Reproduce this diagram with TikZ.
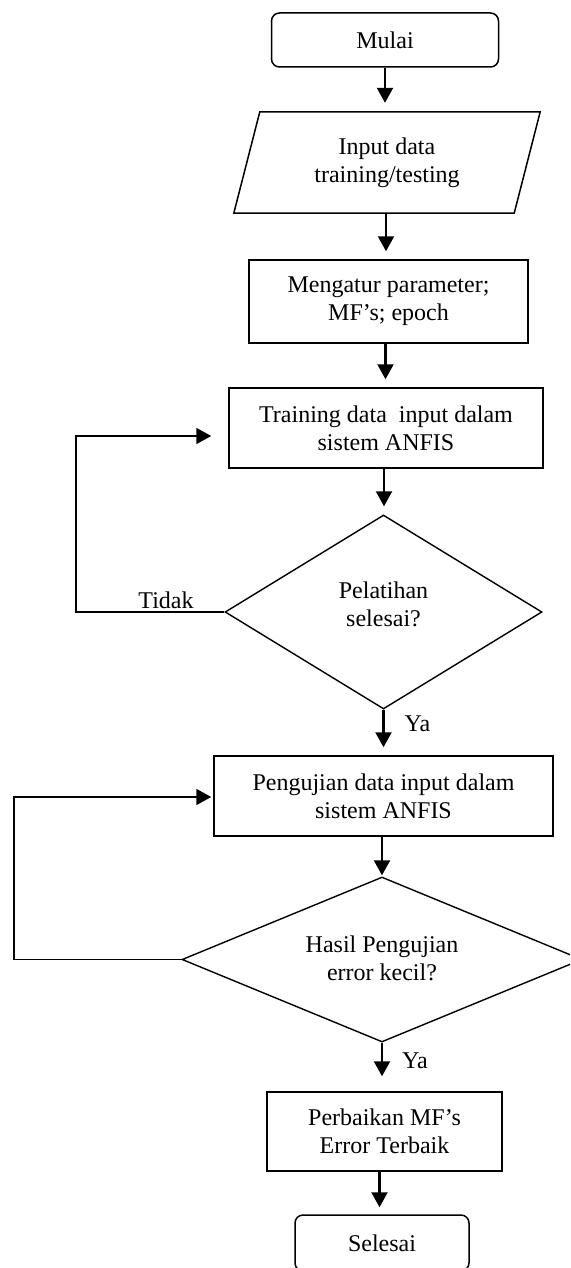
\documentclass[tikz,border=0pt]{standalone}
\usepackage{fontspec}
\setmainfont{Liberation Serif}
\usetikzlibrary{arrows.meta,shapes.geometric}
\begin{document}
\begin{tikzpicture}[x=1pt,y=-1pt,
  every node/.style={font=\fontsize{24}{28}\selectfont},
  box/.style={draw, line width=1.5pt, inner sep=0pt, align=center},
  term/.style={box, rounded corners=8pt},
  dec/.style={diamond, draw, line width=1.4pt, inner sep=0pt},
  arr/.style={line width=2.2pt, -{Triangle[length=15pt,width=16pt]}},
  loopline/.style={line width=1.8pt, -{Triangle[length=15pt,width=16pt]}}]
\clip (0,0) rectangle (570,1268);
% nodes
\node[term, minimum width=227pt, minimum height=54pt] (mulai) at (385,40) {Mulai};
\node[align=center, inner sep=0pt, minimum width=280pt, minimum height=101pt] (input) at (387,162.5) {Input data\\training/testing};
\draw[line width=1.5pt] ([xshift=13pt]input.north west) -- ([xshift=13pt]input.north east) -- ([xshift=-13pt]input.south east) -- ([xshift=-13pt]input.south west) -- cycle;
\node[box, minimum width=279pt, minimum height=83pt] (mengatur) at (388.5,301.5) {Mengatur parameter;\\MF’s; epoch};
\node[box, minimum width=314pt, minimum height=80pt] (training) at (386,428) {Training data~ input dalam\\sistem ANFIS};
\node[dec, minimum width=317pt, minimum height=194pt] (d1) at (383.5,612) {};
\node[align=center] at ([yshift=8pt]d1.center) {Pelatihan\\selesai?};
\node[box, minimum width=339pt, minimum height=80pt] (pengujian) at (383.5,796) {Pengujian data input dalam\\sistem ANFIS};
\node[dec, minimum width=400pt, minimum height=165pt] (d2) at (382,959.5) {};
\node[align=center] at ([yshift=1pt]d2.center) {Hasil Pengujian\\error kecil?};
\node[box, minimum width=235pt, minimum height=79pt] (perbaikan) at (384.5,1131.5) {Perbaikan MF’s\\Error Terbaik};
\node[term, minimum width=174pt, minimum height=56pt] (selesai) at (382,1243) {Selesai};
% labels
\node[anchor=base, inner sep=0pt] (tidak) at (166,608) {Tidak};
\node[anchor=base, inner sep=0pt] (ya1) at (417.5,731.5) {Ya};
\node[anchor=base, inner sep=0pt] (ya2) at (415,1068) {Ya};
% connectors
\draw[arr, shorten >=9pt] (mulai.south) -- (mulai.south |- input.north);
\draw[arr, shorten >=8pt] ([xshift=-1pt]input.south) -- ([xshift=-1pt]input.south |- mengatur.north);
\draw[arr, shorten >=8pt] ([xshift=-3pt]mengatur.south) -- ([xshift=-3pt]mengatur.south |- training.north);
\draw[arr, shorten >=8pt] ([xshift=-2pt]training.south) -- ([xshift=-2pt]training.south |- d1.north);
\draw[arr, shorten >=8pt] (d1.south) -- (d1.south |- pengujian.north);
\draw[arr, shorten >=1pt] ([xshift=-1.5pt]pengujian.south) -- ([xshift=-1.5pt]pengujian.south |- d2.north);
\draw[arr, shorten >=15pt] (d2.south) -- (d2.south |- perbaikan.north);
\draw[arr, shorten >=7pt] ([xshift=-5pt]perbaikan.south) -- ([xshift=-5pt]perbaikan.south |- selesai.north);
\coordinate (c1) at (76,436);
\draw[loopline, shorten >=17pt] (d1.west) -| (c1) -- (c1 -| training.west);
\coordinate (c2) at (14,797);
\draw[loopline, shorten >=2pt] (d2.west) -| (c2) -- (c2 -| pengujian.west);
\end{tikzpicture}
\end{document}
